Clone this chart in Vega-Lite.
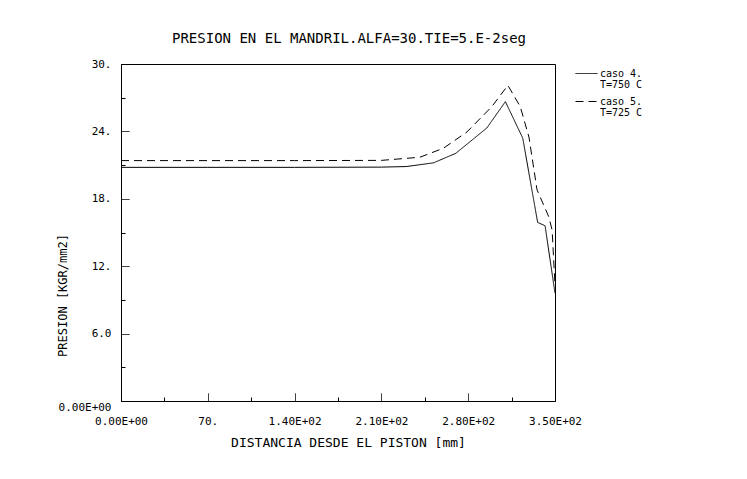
{
  "$schema": "https://vega.github.io/schema/vega-lite/v6.json",
  "width": 434,
  "height": 337,
  "autosize": {"type": "none"},
  "padding": {"left": 121, "top": 64, "right": 192, "bottom": 78},
  "background": "white",
  "config": {
    "font": "DejaVu Sans Mono",
    "view": {"stroke": "black", "strokeWidth": 1},
    "style": {"guide-label": {"lineHeight": 11}}
  },
  "title": {
    "text": "PRESION EN EL MANDRIL.ALFA=30.TIE=5.E-2seg",
    "font": "DejaVu Sans Mono",
    "fontSize": 14,
    "fontWeight": "normal",
    "color": "black",
    "anchor": "start",
    "frame": "group",
    "dx": 51,
    "offset": 12
  },
  "data": {
    "values": [
      {"caso": "caso 4.", "x": 0, "p": 20.8},
      {"caso": "caso 4.", "x": 70, "p": 20.8},
      {"caso": "caso 4.", "x": 140, "p": 20.8},
      {"caso": "caso 4.", "x": 210, "p": 20.82},
      {"caso": "caso 4.", "x": 230, "p": 20.87},
      {"caso": "caso 4.", "x": 252, "p": 21.2},
      {"caso": "caso 4.", "x": 270, "p": 22.05},
      {"caso": "caso 4.", "x": 295, "p": 24.3},
      {"caso": "caso 4.", "x": 310, "p": 26.65},
      {"caso": "caso 4.", "x": 324, "p": 23.4},
      {"caso": "caso 4.", "x": 336, "p": 15.9},
      {"caso": "caso 4.", "x": 342, "p": 15.6},
      {"caso": "caso 4.", "x": 350, "p": 9.6},
      {"caso": "caso 5.", "x": 0, "p": 21.4},
      {"caso": "caso 5.", "x": 70, "p": 21.4},
      {"caso": "caso 5.", "x": 140, "p": 21.4},
      {"caso": "caso 5.", "x": 210, "p": 21.42},
      {"caso": "caso 5.", "x": 241, "p": 21.7},
      {"caso": "caso 5.", "x": 260, "p": 22.5},
      {"caso": "caso 5.", "x": 279, "p": 23.95},
      {"caso": "caso 5.", "x": 299, "p": 26.2},
      {"caso": "caso 5.", "x": 312, "p": 28.1},
      {"caso": "caso 5.", "x": 322, "p": 26.2},
      {"caso": "caso 5.", "x": 329, "p": 23.5},
      {"caso": "caso 5.", "x": 335.5, "p": 18.8},
      {"caso": "caso 5.", "x": 345, "p": 16.4},
      {"caso": "caso 5.", "x": 347.7, "p": 15.2},
      {"caso": "caso 5.", "x": 350, "p": 10.3}
    ]
  },
  "mark": {"type": "line", "color": "black", "strokeWidth": 1, "clip": true},
  "encoding": {
    "x": {
      "field": "x",
      "type": "quantitative",
      "scale": {"domain": [0, 350], "nice": false, "zero": false},
      "axis": {
        "values": [0, 35, 70, 105, 140, 175, 210, 245, 280, 315, 350],
        "labelExpr": "datum.value == 0 ? '0.00E+00' : datum.value == 70 ? '70.' : datum.value == 140 ? '1.40E+02' : datum.value == 210 ? '2.10E+02' : datum.value == 280 ? '2.80E+02' : datum.value == 350 ? '3.50E+02' : ''",
        "title": "DISTANCIA DESDE EL PISTON [mm]",
        "titleFont": "DejaVu Sans Mono",
        "titleFontSize": 13,
        "titleFontWeight": "normal",
        "titleColor": "black",
        "titleX": 227,
        "titleY": 41,
        "titleBaseline": "middle",
        "grid": false,
        "domainColor": "black",
        "tickColor": "black",
        "tickSize": -8,
        "tickDash": {"condition": {"test": "datum.value % 70 === 0", "value": [1, 0]}, "value": [4, 100]},
        "labelColor": "black",
        "labelFont": "DejaVu Sans Mono",
        "labelFontSize": 11,
        "labelPadding": 22,
        "labelFlush": false,
        "labelOverlap": false
      }
    },
    "y": {
      "field": "p",
      "type": "quantitative",
      "scale": {"domain": [0, 30], "nice": false},
      "axis": {
        "values": [0, 3, 6, 9, 12, 15, 18, 21, 24, 27, 30],
        "labelExpr": "datum.value == 0 ? '0.00E+00' : datum.value == 6 ? '6.0' : datum.value % 6 === 0 ? datum.value + '.' : ''",
        "title": "PRESION [KGR/mm2]",
        "titleFont": "DejaVu Sans Mono",
        "titleFontSize": 12,
        "titleFontWeight": "normal",
        "titleColor": "black",
        "titleX": -59,
        "titleY": 231,
        "titleBaseline": "middle",
        "grid": false,
        "domainColor": "black",
        "tickColor": "black",
        "tickSize": -8,
        "tickDash": {"condition": {"test": "datum.value % 6 === 0", "value": [1, 0]}, "value": [4, 100]},
        "labelColor": "black",
        "labelFont": "DejaVu Sans Mono",
        "labelFontSize": 11,
        "labelPadding": 18,
        "labelBaseline": {"condition": {"test": "datum.value === 0", "value": "top"}, "value": "middle"},
        "labelFlush": false,
        "labelOverlap": false
      }
    },
    "strokeDash": {
      "field": "caso",
      "type": "nominal",
      "scale": {"domain": ["caso 4.", "caso 5."], "range": [[1, 0], [8, 5]]},
      "legend": {
        "orient": "none",
        "legendX": 454,
        "legendY": -2,
        "title": null,
        "labelExpr": "datum.value == 'caso 4.' ? ['caso 4.', 'T=750 C'] : ['caso 5.', 'T=725 C']",
        "labelFont": "DejaVu Sans Mono",
        "labelFontSize": 10,
        "labelColor": "black",
        "symbolType": "stroke",
        "symbolSize": 484,
        "symbolStrokeWidth": 1,
        "symbolStrokeColor": "black",
        "rowPadding": -2,
        "labelBaseline": "middle",
        "labelOffset": 2
      }
    }
  }
}
